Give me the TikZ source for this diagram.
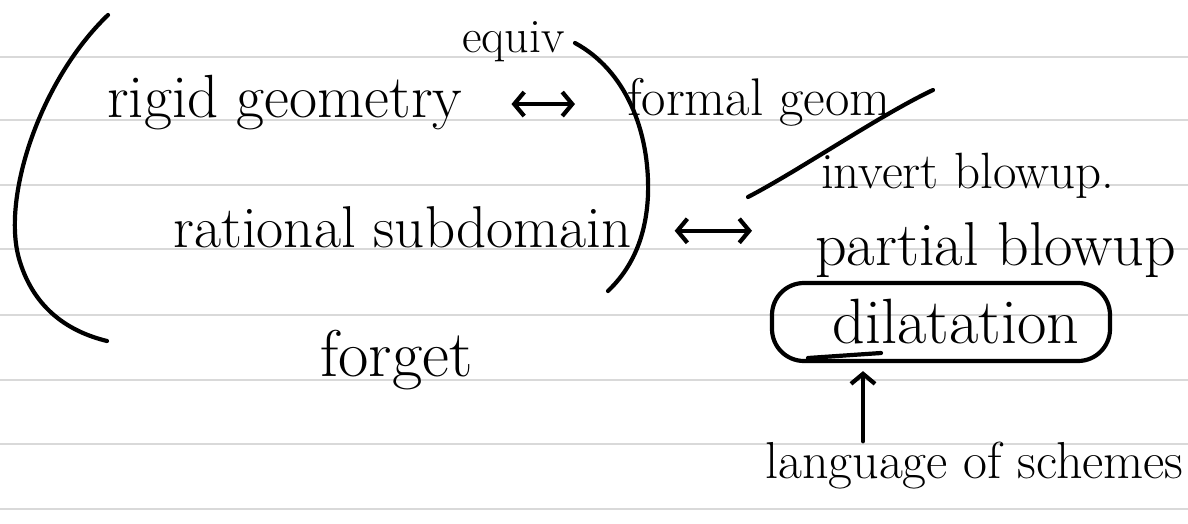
\documentclass[tikz,border=0pt]{standalone}
\usetikzlibrary{arrows.meta}
\definecolor{rulegray}{HTML}{D9D9D9}
\begin{document}
\begin{tikzpicture}[x=1pt,y=-1pt,
  ink/.style={line width=4.2pt, line cap=round, line join=round},
  ruling/.style={line width=1.5pt, draw=rulegray},
  hand/.style={inner sep=0pt, anchor=base west, font=\fontsize{#1}{#1}\selectfont},
  >={Straight Barb[length=10pt,width=24pt]}
]
\useasboundingbox (0,0) rectangle (1188,523);
\fill[white] (0,0) rectangle (1188,523);
\foreach \yy in {57,120,185,249,315,380,444,509} \draw[ruling] (0,\yy) -- (1188,\yy);

% texts
\node[hand=61] (rigid) at (107,117) {rigid geometry};
\node[hand=48] (equiv) at (462,52) {equiv};
\node[hand=53] (formal) at (627,115) {formal geom};
\node[hand=51] (invert) at (821,188) {invert blowup.};
\node[hand=59] (rational) at (173,247) {rational subdomain};
\node[hand=62] (partial) at (815,265) {partial blowup};
\node[hand=66] (forget) at (320,376) {forget};
\node[hand=52] (lang) at (765,478) {language of schemes};
\node[ink, draw, rounded corners=32pt, minimum width=338pt, minimum height=78pt,
      inner sep=0pt, font=\fontsize{64}{64}\selectfont] (dil) at (941,322) {\hspace*{30pt}dilatation};
\coordinate (arrx) at (863,0);

% brackets
\draw[ink] (108,15) .. controls (40,80) and (0,200) .. (20,262)
                    .. controls (35,310) and (70,332) .. (107,341);
\draw[ink] (575,43) .. controls (625,70) and (650,130) .. (648,195)
                    .. controls (646,240) and (630,270) .. (608,291);
% separating slash
\draw[ink] (748,197) .. controls (800,170) and (880,115) .. (933,90);
% second stroke under the loop
\draw[ink] (808,358) -- (881,353);

% connectors
\draw[ink, <->, shorten <=49pt, shorten >=52pt]
  ([yshift=-2pt]rigid.east) -- ([yshift=-2pt]rigid.east -| formal.west);
\draw[ink, <->, shorten <=43pt, shorten >=63pt]
  ([yshift=-4pt]rational.east) -- ([yshift=-4pt]rational.east -| partial.west);
\draw[ink, ->, shorten >=8pt] (lang.north -| arrx) -- (dil.south -| arrx);
\end{tikzpicture}
\end{document}
